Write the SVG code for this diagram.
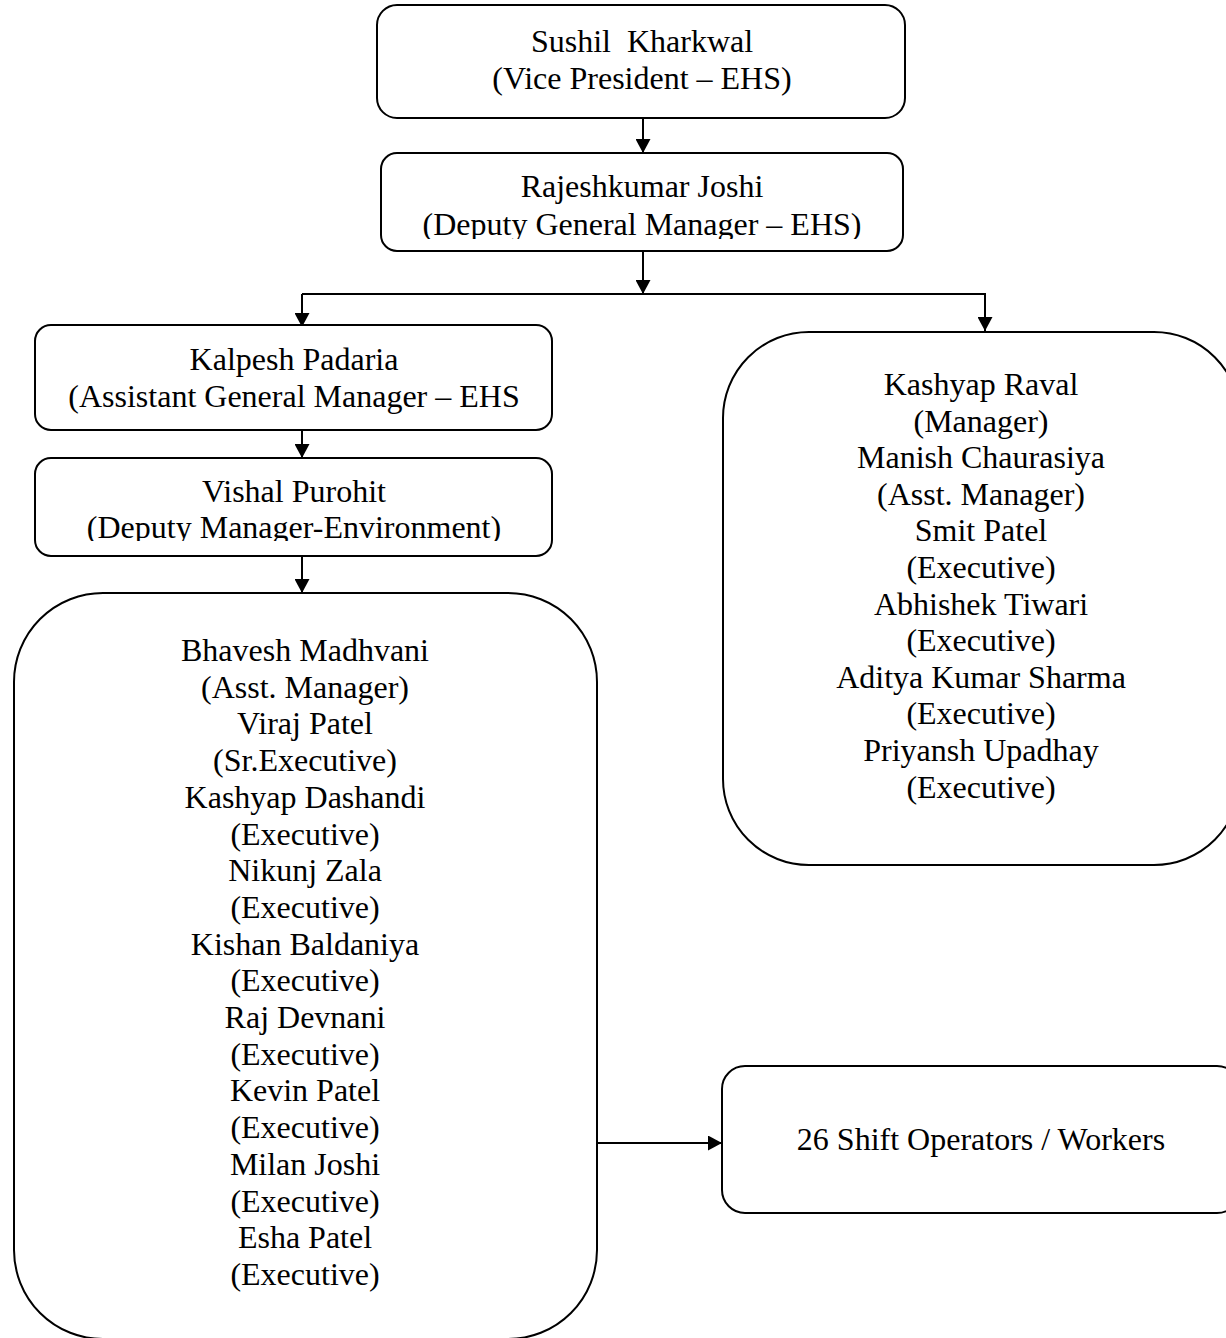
<svg xmlns="http://www.w3.org/2000/svg" width="1226" height="1338" viewBox="0 0 1226 1338">
<style>
.box{fill:#fff;stroke:#000;stroke-width:2}
.t{font-family:"Liberation Serif","Times New Roman",serif;font-size:32px;fill:#000;text-anchor:middle}
.c{fill:none;stroke:#000;stroke-width:2}
</style>
<defs>
<marker id="ah" viewBox="0 0 14 15" refX="14" refY="7.5" markerWidth="14" markerHeight="15" markerUnits="userSpaceOnUse" orient="auto">
<path d="M0,0 L14,7.5 L0,15 Z" fill="#000"/>
</marker>
<clipPath id="clip-joshi"><rect x="381" y="153" width="522" height="86"/></clipPath>
<clipPath id="clip-purohit"><rect x="35" y="458" width="517" height="83"/></clipPath>
</defs>
<rect width="1226" height="1338" fill="#fff"/>
<g id="connectors">
<line class="c" x1="643" y1="118" x2="643" y2="153" marker-end="url(#ah)"/>
<line class="c" x1="643" y1="251" x2="643" y2="294" marker-end="url(#ah)"/>
<polyline class="c" points="302,294 985,294 985,331" marker-end="url(#ah)"/>
<line class="c" x1="302" y1="294" x2="302" y2="327" marker-end="url(#ah)"/>
<line class="c" x1="302" y1="425" x2="302" y2="458" marker-end="url(#ah)"/>
<line class="c" x1="302" y1="556" x2="302" y2="593" marker-end="url(#ah)"/>
<line class="c" x1="597" y1="1143" x2="722" y2="1143" marker-end="url(#ah)"/>
</g>
<g id="n-kharkwal">
<rect class="box" x="377" y="5" width="528" height="113" rx="20"/>
<text class="t" x="642" y="52" xml:space="preserve">Sushil  Kharkwal</text>
<text class="t" x="642" y="89">(Vice President – EHS)</text>
</g>
<g id="n-joshi">
<rect class="box" x="381" y="153" width="522" height="98" rx="16"/>
<text class="t" x="642" y="197">Rajeshkumar Joshi</text>
<text class="t" x="642" y="235" clip-path="url(#clip-joshi)">(Deputy General Manager – EHS)</text>
</g>
<g id="n-padaria">
<rect class="box" x="35" y="325" width="517" height="105" rx="16"/>
<text class="t" x="294" y="370">Kalpesh Padaria</text>
<text class="t" x="294" y="407">(Assistant General Manager – EHS</text>
</g>
<g id="n-purohit">
<rect class="box" x="35" y="458" width="517" height="98" rx="16"/>
<text class="t" x="294" y="502">Vishal Purohit</text>
<text class="t" x="294" y="538" clip-path="url(#clip-purohit)">(Deputy Manager-Environment)</text>
</g>
<g id="n-env-team">
<rect class="box" x="14" y="593" width="583" height="746" rx="89"/>
<text class="t" x="305" y="661">Bhavesh Madhvani</text>
<text class="t" x="305" y="697.7">(Asst. Manager)</text>
<text class="t" x="305" y="734.4">Viraj Patel</text>
<text class="t" x="305" y="771.1">(Sr.Executive)</text>
<text class="t" x="305" y="807.8">Kashyap Dashandi</text>
<text class="t" x="305" y="844.5">(Executive)</text>
<text class="t" x="305" y="881.2">Nikunj Zala</text>
<text class="t" x="305" y="917.9">(Executive)</text>
<text class="t" x="305" y="954.6">Kishan Baldaniya</text>
<text class="t" x="305" y="991.3">(Executive)</text>
<text class="t" x="305" y="1028">Raj Devnani</text>
<text class="t" x="305" y="1064.7">(Executive)</text>
<text class="t" x="305" y="1101.4">Kevin Patel</text>
<text class="t" x="305" y="1138.1">(Executive)</text>
<text class="t" x="305" y="1174.8">Milan Joshi</text>
<text class="t" x="305" y="1211.5">(Executive)</text>
<text class="t" x="305" y="1248.2">Esha Patel</text>
<text class="t" x="305" y="1284.9">(Executive)</text>
</g>
<g id="n-safety-team">
<rect class="box" x="723" y="332" width="517" height="533" rx="86"/>
<text class="t" x="981" y="395">Kashyap Raval</text>
<text class="t" x="981" y="431.6">(Manager)</text>
<text class="t" x="981" y="468.2">Manish Chaurasiya</text>
<text class="t" x="981" y="504.8">(Asst. Manager)</text>
<text class="t" x="981" y="541.4">Smit Patel</text>
<text class="t" x="981" y="578">(Executive)</text>
<text class="t" x="981" y="614.6">Abhishek Tiwari</text>
<text class="t" x="981" y="651.2">(Executive)</text>
<text class="t" x="981" y="687.8">Aditya Kumar Sharma</text>
<text class="t" x="981" y="724.4">(Executive)</text>
<text class="t" x="981" y="761">Priyansh Upadhay</text>
<text class="t" x="981" y="797.6">(Executive)</text>
</g>
<g id="n-workers">
<rect class="box" x="722" y="1066" width="518" height="147" rx="23"/>
<text class="t" x="981" y="1150">26 Shift Operators / Workers</text>
</g>
</svg>
